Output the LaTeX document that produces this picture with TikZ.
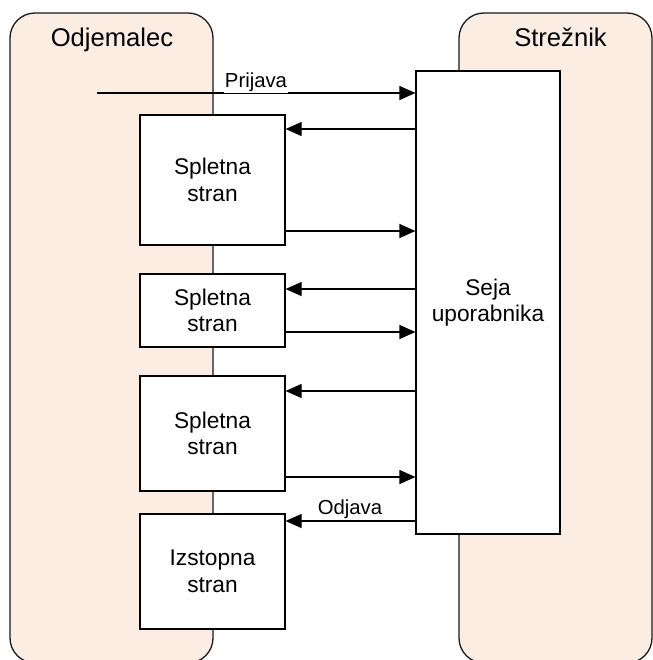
\documentclass[tikz,border=0pt]{standalone}
\usepackage{fontspec}
\setmainfont{Liberation Sans}
\usetikzlibrary{arrows.meta}
\definecolor{panelfill}{RGB}{252,237,226}
\begin{document}
\begin{tikzpicture}[x=1bp,y=-1bp,
  panel/.style={draw=black!90, line width=1.3bp, fill=panelfill, rounded corners=25bp},
  pagebox/.style={draw, line width=1.2bp, fill=white, inner sep=0pt, align=center,
    font=\fontsize{22.7bp}{26.5bp}\selectfont},
  msg/.style={line width=1.2bp, -{Triangle[length=16bp,width=14bp]}},
  msglabel/.style={fill=white, inner sep=1bp, anchor=base,
    font=\fontsize{20.3bp}{24bp}\selectfont},
  paneltitle/.style={anchor=base, font=\fontsize{25.6bp}{30bp}\selectfont}]
\useasboundingbox (0,0) rectangle (653,660);

% client and server lanes
\draw[panel] (10,13) rectangle (213,663);
\draw[panel] (459,13) rectangle (652,663);
\node[paneltitle] (tclient) at (112,47) {Odjemalec};
\node[paneltitle] (tserver) at (560.5,47) {Strežnik};

% pages on the client side
\node[pagebox, minimum width=145bp, minimum height=130bp] (p1) at (212.5,180) {Spletna\\stran};
\node[pagebox, minimum width=145bp, minimum height=73bp]  (p2) at (212.5,310.5) {Spletna\\stran};
\node[pagebox, minimum width=145bp, minimum height=115bp] (p3) at (212.5,433.5) {Spletna\\stran};
\node[pagebox, minimum width=145bp, minimum height=115bp] (p4) at (212.5,571.5) {Izstopna\\stran};

% session on the server side
\node[pagebox, minimum width=144bp, minimum height=463bp] (seja) at (488,302.5) {Seja\\uporabnika};

% message levels
\coordinate (start) at (97,93);
\coordinate (m1) at (0,129);
\coordinate (m2) at (0,231);
\coordinate (m3) at (0,289);
\coordinate (m4) at (0,332);
\coordinate (m5) at (0,391);
\coordinate (m6) at (0,477);
\coordinate (m7) at (0,521);

% requests and responses
\draw[msg] (start) -- (seja.west |- start);
\draw[msg] (seja.west |- m1) -- (p1.east |- m1);
\draw[msg] (p1.east |- m2) -- (seja.west |- m2);
\draw[msg] (seja.west |- m3) -- (p2.east |- m3);
\draw[msg] (p2.east |- m4) -- (seja.west |- m4);
\draw[msg] (seja.west |- m5) -- (p3.east |- m5);
\draw[msg] (p3.east |- m6) -- (seja.west |- m6);
\draw[msg] (seja.west |- m7) -- (p4.east |- m7);

\node[msglabel] (lprijava) at (256,88) {Prijava};
\node[msglabel] (lodjava) at (350,514) {Odjava};
\end{tikzpicture}
\end{document}
